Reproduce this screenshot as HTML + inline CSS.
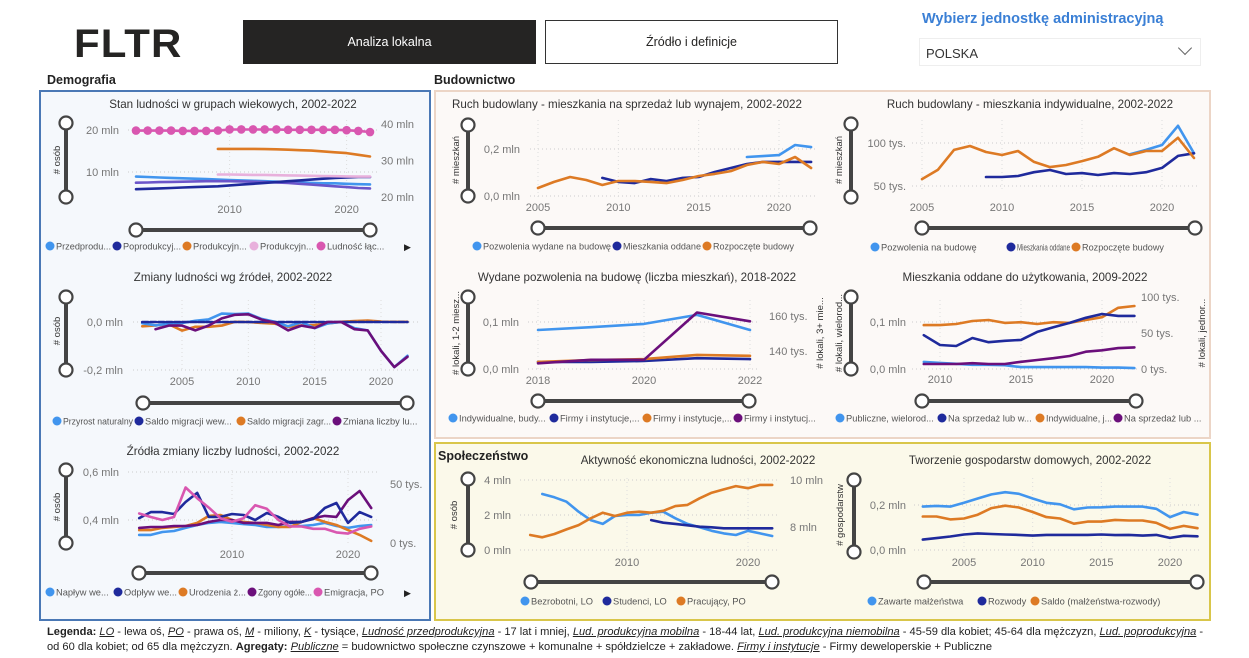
<!DOCTYPE html>
<html><head><meta charset="utf-8">
<style>
*{margin:0;padding:0;box-sizing:border-box}
body{width:1249px;height:658px;background:#fff;font-family:"Liberation Sans",sans-serif;position:relative;overflow:hidden;color:#252423}
.abs{position:absolute}
.logo{left:74px;top:22px;font-size:40px;font-weight:900;letter-spacing:1px;transform:scaleX(1.05);transform-origin:left}
.btn{top:20px;height:44px;width:293px;display:flex;align-items:center;justify-content:center;font-size:12.5px}
.sec{font-size:12.5px;font-weight:bold;color:#222}
.panel{position:absolute}
.foot{left:47px;font-size:11.1px;white-space:nowrap;color:#222}
.foot i{text-decoration:underline}
svg text{font-family:"Liberation Sans",sans-serif}
</style></head><body>
<div class="abs logo">FLTR</div>
<div class="abs btn" style="left:243px;background:#252423;color:#fff">Analiza lokalna</div>
<div class="abs btn" style="left:545px;background:#fff;border:1.5px solid #333">Źródło i definicje</div>
<div class="abs" style="left:922px;top:11px;font-size:14.5px;font-weight:bold;color:#3a7fd5">Wybierz jednostkę administracyjną</div>
<div class="abs" style="left:919px;top:38px;width:282px;height:28px;border:1px solid #eee;font-size:13px;padding:7px 0 0 6px;color:#333">POLSKA<span class="abs" style="right:10px;top:4px;width:10px;height:10px;border-right:1.3px solid #666;border-bottom:1.3px solid #666;transform:rotate(45deg)"></span></div>
<div class="abs sec" style="left:47px;top:73px">Demografia</div>
<div class="abs sec" style="left:434px;top:73px">Budownictwo</div>
<div class="panel" style="left:39px;top:90px;width:392px;height:531px;border:2px solid #4a78b5;background:#f5f8fc"></div>
<div class="panel" style="left:434px;top:90px;width:777px;height:349px;border:2px solid #ecd5c6;background:#fcf9f7"></div>
<div class="panel" style="left:434px;top:442px;width:777px;height:179px;border:2px solid #d9c64a;background:#fbf9ea"></div>
<div class="abs sec" style="left:438px;top:449px">Społeczeństwo</div>
<div class="abs foot" style="top:626px"><b>Legenda:</b> <i>LO</i> - lewa oś, <i>PO</i> - prawa oś, <i>M</i> - miliony, <i>K</i> - tysiące, <i>Ludność przedprodukcyjna</i> - 17 lat i mniej, <i>Lud. produkcyjna mobilna</i> - 18-44 lat, <i>Lud. produkcyjna niemobilna</i> - 45-59 dla kobiet; 45-64 dla mężczyzn, <i>Lud. poprodukcyjna</i> -</div>
<div class="abs foot" style="top:641px">od 60 dla kobiet; od 65 dla mężczyzn. <b>Agregaty:</b> <i>Publiczne</i> = budownictwo społeczne czynszowe + komunalne + spółdzielcze + zakładowe. <i>Firmy i instytucje</i> - Firmy deweloperskie + Publiczne</div>
<svg id="charts" class="abs" style="left:0;top:0" width="1249" height="658"></svg>
<script>
const YRS = [2002,2003,2004,2005,2006,2007,2008,2009,2010,2011,2012,2013,2014,2015,2016,2017,2018,2019,2020,2021,2022];
const YRS18 = [2018,2019,2020,2021,2022];
const YRS09 = [2009,2010,2011,2012,2013,2014,2015,2016,2017,2018,2019,2020,2021,2022];
// Chart 1
const c1Przed = [8.9,8.8,8.7,8.6,8.5,8.4,8.3,8.2,8.1,8.0,7.9,7.8,7.7,7.6,7.5,7.4,7.3,7.3,7.2,7.1,7.05];
const c1Popro = [5.9,6.0,6.1,6.2,6.3,6.4,6.5,6.6,6.8,7.0,7.2,7.4,7.6,7.8,8.0,8.2,8.4,8.6,8.7,8.8,8.8];
const c1Prod = [7.45,7.5,7.6,7.65,7.7,7.75,7.8,7.8,7.8,7.75,7.7,7.6,7.5,7.4,7.2,7.0,6.8,6.6,6.4,6.2,6.1];
const c1ProdM = [null,null,null,null,null,null,null,15.5,15.5,15.5,15.5,15.45,15.4,15.3,15.2,15.1,14.9,14.7,14.5,14.1,13.7];
const c1ProdN = [null,null,null,null,null,null,null,9.4,9.4,9.35,9.3,9.3,9.25,9.2,9.15,9.1,9.05,9.0,8.95,8.9,8.9];
const c1Ludnosc = [38.2,38.2,38.2,38.2,38.1,38.1,38.1,38.2,38.5,38.5,38.5,38.5,38.5,38.4,38.4,38.4,38.4,38.4,38.3,38.1,37.8];
const c1LeftTicks = [10,20]; const c1LeftLabels = ['10 mln','20 mln'];
const c1RightTicks = [20,30,40]; const c1RightLabels = ['20 mln','30 mln','40 mln'];
const c1XTicks = [2010,2020];
// Chart 2
const c2Przyrost = [-0.005,-0.014,-0.007,-0.004,0.005,0.011,0.035,0.033,0.035,0.013,0.001,-0.018,-0.001,-0.026,-0.006,0.0,-0.026,-0.035,-0.12,-0.188,-0.141];
const c2Wew = [0,0,0,0,0,0,0,0,0,0,0,0,0,0,0,0,0,0,0,0,0];
const c2Zagr = [-0.018,-0.014,-0.009,-0.036,-0.02,-0.02,-0.015,0.001,0.0,-0.004,-0.007,-0.02,-0.015,-0.013,-0.006,0.001,0.004,0.006,0.002,0.001,0.001];
const c2Zmiana = [null,-0.03,-0.015,-0.015,-0.035,-0.015,0.015,0.03,0.032,0.01,-0.003,-0.035,-0.015,-0.025,0.0,0.0,-0.03,-0.035,-0.12,-0.188,-0.145];
const c2LeftTicks = [-0.2,0]; const c2LeftLabels = ['-0,2 mln','0,0 mln'];
const c2XTicks = [2005,2010,2015,2020];
// Chart 3
const c3Naplyw = [0.338,0.338,0.35,0.354,0.367,0.379,0.388,0.392,0.388,0.383,0.379,0.371,0.371,0.375,0.375,0.379,0.388,0.375,0.367,0.375,0.379];
const c3Odplyw = [0.408,0.433,0.433,0.425,0.475,0.513,0.413,0.413,0.425,0.421,0.4,0.429,0.413,0.388,0.392,0.404,0.45,0.471,0.388,0.433,0.413];
const c3Urodzenia = [0.358,0.358,0.367,0.371,0.375,0.388,0.417,0.421,0.4,0.392,0.388,0.379,0.371,0.371,0.392,0.408,0.392,0.379,0.358,0.338,0.313];
const c3Zgony = [0.367,0.371,0.371,0.375,0.375,0.379,0.392,0.4,0.4,0.388,0.388,0.388,0.379,0.392,0.392,0.408,0.417,0.413,0.483,0.521,0.45];
const c3Emigracja = [25,22,19.5,22,47,38,30,21,18,21,32,29,19.5,14,14,12,12,9,8,12,14];
const c3LeftTicks = [0.4,0.6]; const c3LeftLabels = ['0,4 mln','0,6 mln'];
const c3RightTicks = [0,50]; const c3RightLabels = ['0 tys.','50 tys.'];
const c3XTicks = [2010,2020];
// Chart 4
const c4Pozw = [null,null,null,null,null,null,null,null,null,null,null,null,null,null,null,null,0.166,0.17,0.174,0.217,0.208];
const c4Oddane = [null,null,null,null,null,null,null,0.077,0.06,0.055,0.072,0.064,0.077,0.081,0.102,0.119,0.136,0.145,0.145,0.145,0.145];
const c4Rozp = [null,null,null,0.034,0.06,0.081,0.068,0.047,0.064,0.064,0.06,0.055,0.068,0.085,0.094,0.106,0.132,0.145,0.136,0.166,0.119];
const c4LeftTicks = [0,0.2]; const c4LeftLabels = ['0,0 mln','0,2 mln'];
const c4XTicks = [2005,2010,2015,2020];
// Chart 5
const c5Pozw = [null,null,null,null,null,null,null,null,null,null,null,null,null,null,null,null,87,92,97.7,120,88];
const c5Oddane = [null,null,null,null,null,null,null,60.5,60.5,61.6,66,68.6,64,65,62.8,65,64,66,71,85,88];
const c5Rozp = [null,null,null,58,69,92,96.5,89.5,86,90.7,78,72,74.4,79,84,94,86,90.7,90.7,106,82.6];
const c5LeftTicks = [50,100]; const c5LeftLabels = ['50 tys.','100 tys.'];
const c5XTicks = [2005,2010,2015,2020];
// Chart 6
const c6Indyw = [0.083,0.089,0.096,0.115,0.083];
const c6Firmy12 = [0.015,0.015,0.017,0.023,0.021];
const c6FirmyB = [0.015,0.019,0.021,0.03,0.028];
const c6Firmy3 = [133,135,135,162,157];
const c6LeftTicks = [0,0.1]; const c6LeftLabels = ['0,0 mln','0,1 mln'];
const c6RightTicks = [140,160]; const c6RightLabels = ['140 tys.','160 tys.'];
const c6XTicks = [2018,2020,2022];
// Chart 7
const c7Publ = [0.015,0.013,0.011,0.009,0.009,0.008,0.004,0.004,0.004,0.004,0.004,0.003,0.003,0.002];
const c7SprzW = [0.072,0.051,0.049,0.066,0.057,0.06,0.062,0.079,0.089,0.098,0.109,0.117,0.113,0.113];
const c7Indyw = [61,61,62.5,66.7,68,64,65,62.5,65,64,68,72,85,87.5];
const c7SprzJ = [7,7,7,8,7,7,10,12.5,15,18,24,26,29,30];
const c7LeftTicks = [0,0.1]; const c7LeftLabels = ['0,0 mln','0,1 mln'];
const c7RightTicks = [0,50,100]; const c7RightLabels = ['0 tys.','50 tys.','100 tys.'];
const c7XTicks = [2010,2015,2020];
// Chart 8
const c8Bezrob = [null,3.2,3.01,2.76,2.19,1.71,1.49,1.94,2.0,2.0,2.13,2.19,1.81,1.49,1.3,1.1,0.95,0.86,1.1,0.95,0.8];
const c8Stud = [null,null,null,null,null,null,null,null,null,null,1.71,1.56,1.49,1.41,1.33,1.3,1.24,1.24,1.24,1.24,1.24];
const c8Prac = [7.66,7.56,7.7,7.9,8.08,8.37,8.61,8.47,8.61,8.65,8.61,8.69,8.89,8.94,9.22,9.46,9.6,9.74,9.65,9.79,9.79];
const c8LeftTicks = [0,2,4]; const c8LeftLabels = ['0 mln','2 mln','4 mln'];
const c8RightTicks = [8,10]; const c8RightLabels = ['8 mln','10 mln'];
const c8XTicks = [2010,2020];
// Chart 9
const c9Zawarte = [0.193,0.196,0.193,0.21,0.229,0.247,0.257,0.25,0.229,0.21,0.203,0.181,0.189,0.19,0.193,0.193,0.193,0.183,0.146,0.169,0.157];
const c9Rozwody = [0.046,0.053,0.06,0.069,0.074,0.071,0.069,0.067,0.064,0.067,0.067,0.067,0.067,0.069,0.066,0.067,0.064,0.067,0.054,0.063,0.061];
const c9Saldo = [0.149,0.149,0.136,0.14,0.157,0.186,0.197,0.189,0.169,0.146,0.14,0.117,0.126,0.126,0.134,0.131,0.131,0.121,0.094,0.107,0.097];
const c9LeftTicks = [0,0.2]; const c9LeftLabels = ['0,0 mln','0,2 mln'];
const c9XTicks = [2005,2010,2015,2020];

const LB='#4195ee', NV='#1f2a9c', OR='#dd7a24', PU='#6b0f7b', PK='#d957b0', LP='#e8b0dc', VI='#6b55c9';
const NS='http://www.w3.org/2000/svg';
const root=document.getElementById('charts');
function mk(tag,parent,o){const e=document.createElementNS(NS,tag);for(const k in o)e.setAttribute(k,o[k]);parent.appendChild(e);return e;}
function lin(d0,d1,r0,r1){return v=>r0+(v-d0)*(r1-r0)/(d1-d0);}
function txt(parent,x,y,s,o){const t=mk('text',parent,Object.assign({x:x,y:y,'font-size':11,fill:'#777'},o||{}));t.textContent=s;return t;}
function line(g,years,vals,sx,sy,color,name,w){
  let d='',pen=false;
  years.forEach((yr,i)=>{const v=vals[i];if(v==null){pen=false;return;}d+=(pen?'L':'M')+sx(yr).toFixed(1)+' '+sy(v).toFixed(1);pen=true;});
  const p=mk('path',g,{d:d,fill:'none',stroke:color,'stroke-width':w||2.6,'stroke-linejoin':'round','stroke-linecap':'round'});
  
  
  return p;
}
function yTicks(g,ticks,labels,sy,xText,anchor,gx0,gx1,name){
  ticks.forEach((v,i)=>{
    if(gx1) mk('line',g,{x1:gx0,x2:gx1,y1:sy(v),y2:sy(v),stroke:'#ccc','stroke-dasharray':'1 3'});
    const t=txt(g,xText,sy(v)+4,labels[i],{'text-anchor':anchor});
    
    
  });
}
function xTicks(g,ticks,sx,y,gy0,gy1,name){
  ticks.forEach(v=>{
    mk('line',g,{x1:sx(v),x2:sx(v),y1:gy0,y2:gy1,stroke:'#ddd','stroke-dasharray':'1 3'});
    const t=txt(g,sx(v),y,String(v),{'text-anchor':'middle'});
    
    
  });
}
function vslider(g,x,y0,y1,name){
  const s=mk('g',g,{});
  
  
  mk('line',s,{x1:x,x2:x,y1:y0,y2:y1,stroke:'#444','stroke-width':4});
  mk('circle',s,{cx:x,cy:y0,r:6.5,fill:'#fff',stroke:'#444','stroke-width':2.2});
  mk('circle',s,{cx:x,cy:y1,r:6.5,fill:'#fff',stroke:'#444','stroke-width':2.2});
}
function hslider(g,x0,x1,y,name){
  const s=mk('g',g,{});
  
  
  mk('line',s,{x1:x0,x2:x1,y1:y,y2:y,stroke:'#444','stroke-width':4});
  mk('circle',s,{cx:x0,cy:y,r:6.5,fill:'#fff',stroke:'#444','stroke-width':2.2});
  mk('circle',s,{cx:x1,cy:y,r:6.5,fill:'#fff',stroke:'#444','stroke-width':2.2});
}
function legend(g,y,xs,colors,labels,name,endX){
  xs.forEach((x,i)=>{
    const e=mk('g',g,{});
    
    
    mk('circle',e,{cx:x,cy:y,r:4.5,fill:colors[i]});
    const t=txt(e,x+6,y+3.5,labels[i],{'font-size':9.3,fill:'#555'});
    const lim=(i<xs.length-1?xs[i+1]:endX)-x-12;
    if(lim>0 && t.getComputedTextLength()>lim){t.setAttribute('textLength',lim);t.setAttribute('lengthAdjust','spacingAndGlyphs');}
  });
}
function title(g,x,y,s,name){const t=txt(g,x,y,s,{'text-anchor':'middle','font-size':11.6,fill:'#333'});}
function axTitle(g,x,y,s,name){const t=txt(g,0,0,s,{'text-anchor':'middle','font-size':9.5,fill:'#333',transform:'translate('+x+','+y+') rotate(-90)'});}
function chartGroup(name){const g=mk('g',root,{});return g;}

// ---- Chart 1
(function(){
  const g=chartGroup('stan-ludnosci-chart');
  const sx=lin(2002,2022,136,370), yL=lin(10,20,172,130), yR=lin(20,40,197,124);
  title(g,233,108,'Stan ludności w grupach wiekowych, 2002-2022','c1');
  axTitle(g,60,160,'# osób','c1');
  yTicks(g,c1LeftTicks,c1LeftLabels,yL,119,'end',128,378,'c1-left');
  yTicks(g,c1RightTicks,c1RightLabels,yR,381,'start',0,0,'c1-right');
  xTicks(g,c1XTicks,sx,213,120,200,'c1');
  line(g,YRS,c1Przed,sx,yL,LB,'przedprodukcyjny-line');
  line(g,YRS,c1Prod,sx,yL,VI,'produkcyjny-line');
  line(g,YRS,c1Popro,sx,yL,NV,'poprodukcyjny-line');
  line(g,YRS,c1ProdN,sx,yL,LP,'produkcyjny-niemobilny-line');
  line(g,YRS,c1ProdM,sx,yL,OR,'produkcyjny-mobilny-line');
  line(g,YRS,c1Ludnosc,sx,yR,PK,'ludnosc-laczna-line');
  YRS.forEach((yr,i)=>{const c=mk('circle',g,{cx:sx(yr),cy:yR(c1Ludnosc[i]),r:4.3,fill:PK});
    
    });
  vslider(g,66,123,197,'c1'); hslider(g,136,370,230,'c1');
  legend(g,246,[50,117,187,254,321],[LB,NV,OR,LP,PK],['Przedprodu...','Poprodukcyj...','Produkcyjn...','Produkcyjn...','Ludność łąc...'],'c1',392);
  const a=txt(g,404,250,'▶',{'font-size':9,fill:'#222'});
})();
// ---- Chart 2
(function(){
  const g=chartGroup('zmiany-ludnosci-chart');
  const sx=lin(2005,2020,182,381), yL=lin(-0.2,0,370,322);
  title(g,233,281,'Zmiany ludności wg źródeł, 2002-2022','c2');
  axTitle(g,60,331,'# osób','c2');
  yTicks(g,c2LeftTicks,c2LeftLabels,yL,123,'end',133,418,'c2');
  xTicks(g,c2XTicks,sx,385,300,372,'c2');
  line(g,YRS,c2Zagr,sx,yL,OR,'saldo-migracji-zagr-line');
  line(g,YRS,c2Przyrost,sx,yL,LB,'przyrost-naturalny-line');
  line(g,YRS,c2Wew,sx,yL,NV,'saldo-migracji-wew-line').setAttribute('stroke-dasharray','6 2');
  line(g,YRS,c2Zmiana,sx,yL,PU,'zmiana-liczby-ludnosci-line');
  vslider(g,66,297,370,'c2'); hslider(g,143,407,403,'c2');
  legend(g,421,[57,139,241,337],[LB,NV,OR,PU],['Przyrost naturalny','Saldo migracji wew...','Saldo migracji zagr...','Zmiana liczby lu...'],'c2',426);
})();
// ---- Chart 3
(function(){
  const g=chartGroup('zrodla-zmiany-chart');
  const sx=lin(2010,2020,232,348), yL=lin(0.4,0.6,520,472), yR=lin(0,50,543,484);
  title(g,233,455,'Źródła zmiany liczby ludności, 2002-2022','c3');
  axTitle(g,60,507,'# osób','c3');
  yTicks(g,c3LeftTicks,c3LeftLabels,yL,119,'end',128,378,'c3-left');
  yTicks(g,c3RightTicks,c3RightLabels,yR,390,'start',0,0,'c3-right');
  xTicks(g,c3XTicks,sx,558,470,545,'c3');
  line(g,YRS,c3Naplyw,sx,yL,LB,'naplyw-line');
  line(g,YRS,c3Urodzenia,sx,yL,OR,'urodzenia-line');
  line(g,YRS,c3Zgony,sx,yL,PU,'zgony-line');
  line(g,YRS,c3Odplyw,sx,yL,NV,'odplyw-line');
  line(g,YRS,c3Emigracja,sx,yR,PK,'emigracja-line');
  vslider(g,66,470,543,'c3'); hslider(g,139,371,573,'c3');
  legend(g,592,[50,118,183,252,318],[LB,NV,OR,PU,PK],['Napływ we...','Odpływ we...','Urodzenia ż...','Zgony ogółe...','Emigracja, PO'],'c3',392);
  const a=txt(g,404,596,'▶',{'font-size':9,fill:'#222'});
})();
// ---- Chart 4
(function(){
  const g=chartGroup('ruch-budowlany-sprzedaz-chart');
  const sx=lin(2005,2020,538,779), yL=lin(0,0.2,196,149);
  title(g,627,108,'Ruch budowlany - mieszkania na sprzedaż lub wynajem, 2002-2022','c4');
  axTitle(g,459,160,'# mieszkań','c4');
  yTicks(g,c4LeftTicks,c4LeftLabels,yL,520,'end',530,817,'c4');
  xTicks(g,c4XTicks,sx,211,120,198,'c4');
  line(g,YRS,c4Pozw,sx,yL,LB,'pozwolenia-line');
  line(g,YRS,c4Oddane,sx,yL,NV,'mieszkania-oddane-line');
  line(g,YRS,c4Rozp,sx,yL,OR,'rozpoczete-budowy-line');
  vslider(g,468,125,196,'c4'); hslider(g,538,810,228,'c4');
  legend(g,246,[477,617,707],[LB,NV,OR],['Pozwolenia wydane na budowę','Mieszkania oddane','Rozpoczęte budowy'],'c4',800);
})();
// ---- Chart 5
(function(){
  const g=chartGroup('ruch-budowlany-indywidualne-chart');
  const sx=lin(2005,2020,922,1162), yL=lin(50,100,186,143);
  title(g,1030,108,'Ruch budowlany - mieszkania indywidualne, 2002-2022','c5');
  axTitle(g,842,160,'# mieszkań','c5');
  yTicks(g,c5LeftTicks,c5LeftLabels,yL,906,'end',912,1200,'c5');
  xTicks(g,c5XTicks,sx,211,120,190,'c5');
  line(g,YRS,c5Pozw,sx,yL,LB,'pozwolenia-line');
  line(g,YRS,c5Oddane,sx,yL,NV,'mieszkania-oddane-line');
  line(g,YRS,c5Rozp,sx,yL,OR,'rozpoczete-budowy-line');
  vslider(g,851,124,197,'c5'); hslider(g,922,1195,228,'c5');
  legend(g,247,[875,1011,1076],[LB,NV,OR],['Pozwolenia na budowę','Mieszkania oddane','Rozpoczęte budowy'],'c5',1170);
})();
// ---- Chart 6
(function(){
  const g=chartGroup('wydane-pozwolenia-chart');
  const sx=lin(2018,2022,538,750), yL=lin(0,0.1,369,322), yR=lin(140,160,351,316);
  title(g,637,281,'Wydane pozwolenia na budowę (liczba mieszkań), 2018-2022','c6');
  axTitle(g,459,333,'# lokali, 1-2 miesz...','c6');
  axTitle(g,823,333,'# lokali, 3+ mie...','c6-right');
  yTicks(g,c6LeftTicks,c6LeftLabels,yL,519,'end',528,758,'c6-left');
  yTicks(g,c6RightTicks,c6RightLabels,yR,769,'start',0,0,'c6-right');
  xTicks(g,c6XTicks,sx,384,300,372,'c6');
  line(g,YRS18,c6Indyw,sx,yL,LB,'indywidualne-line');
  line(g,YRS18,c6Firmy12,sx,yL,NV,'firmy-1-2-line');
  line(g,YRS18,c6FirmyB,sx,yL,OR,'firmy-b-line');
  line(g,YRS18,c6Firmy3,sx,yR,PU,'firmy-3plus-line');
  vslider(g,468,297,369,'c6'); hslider(g,538,749,401,'c6');
  legend(g,418,[453,554,647,738],[LB,NV,OR,PU],['Indywidualne, budy...','Firmy i instytucje,...','Firmy i instytucje,...','Firmy i instytucj...'],'c6',828);
})();
// ---- Chart 7
(function(){
  const g=chartGroup('mieszkania-oddane-chart');
  const sx=lin(2010,2020,940,1102), yL=lin(0,0.1,369,322), yR=lin(0,100,369,297);
  title(g,1025,281,'Mieszkania oddane do użytkowania, 2009-2022','c7');
  axTitle(g,842,333,'# lokali, wielorod...','c7');
  axTitle(g,1205,333,'# lokali, jednor...','c7-right');
  yTicks(g,c7LeftTicks,c7LeftLabels,yL,906,'end',912,1140,'c7-left');
  yTicks(g,c7RightTicks,c7RightLabels,yR,1141,'start',0,0,'c7-right');
  xTicks(g,c7XTicks,sx,383,300,372,'c7');
  line(g,YRS09,c7Publ,sx,yL,LB,'publiczne-line');
  line(g,YRS09,c7SprzJ,sx,yR,PU,'sprzedaz-jednor-line');
  line(g,YRS09,c7Indyw,sx,yR,OR,'indywidualne-line');
  line(g,YRS09,c7SprzW,sx,yL,NV,'sprzedaz-wielorod-line');
  vslider(g,851,297,369,'c7'); hslider(g,922,1136,401,'c7');
  legend(g,418,[840,942,1040,1118],[LB,NV,OR,PU],['Publiczne, wielorod...','Na sprzedaż lub w...','Indywidualne, j...','Na sprzedaż lub ...'],'c7',1208);
})();
// ---- Chart 8
(function(){
  const g=chartGroup('aktywnosc-ekonomiczna-chart');
  const sx=lin(2010,2020,627,748), yL=lin(0,4,550,480), yR=lin(8,10,527,480);
  title(g,698,464,'Aktywność ekonomiczna ludności, 2002-2022','c8');
  axTitle(g,457,515,'# osób','c8');
  yTicks(g,c8LeftTicks,c8LeftLabels,yL,511,'end',520,780,'c8-left');
  yTicks(g,c8RightTicks,c8RightLabels,yR,790,'start',0,0,'c8-right');
  xTicks(g,c8XTicks,sx,566,478,552,'c8');
  line(g,YRS,c8Bezrob,sx,yL,LB,'bezrobotni-line');
  line(g,YRS,c8Stud,sx,yL,NV,'studenci-line');
  line(g,YRS,c8Prac,sx,yR,OR,'pracujacy-line');
  vslider(g,468,479,550,'c8'); hslider(g,531,772,582,'c8');
  legend(g,601,[525,607,681],[LB,NV,OR],['Bezrobotni, LO','Studenci, LO','Pracujący, PO'],'c8',780);
})();
// ---- Chart 9
(function(){
  const g=chartGroup('tworzenie-gospodarstw-chart');
  const sx=lin(2005,2020,964,1170), yL=lin(0,0.2,550,505);
  title(g,1030,464,'Tworzenie gospodarstw domowych, 2002-2022','c9');
  axTitle(g,843,515,'# gospodarstw','c9');
  yTicks(g,c9LeftTicks,c9LeftLabels,yL,906,'end',914,1200,'c9');
  xTicks(g,c9XTicks,sx,566,478,552,'c9');
  line(g,YRS,c9Zawarte,sx,yL,LB,'zawarte-malzenstwa-line');
  line(g,YRS,c9Rozwody,sx,yL,NV,'rozwody-line');
  line(g,YRS,c9Saldo,sx,yL,OR,'saldo-line');
  vslider(g,854,480,552,'c9'); hslider(g,924,1197,582,'c9');
  legend(g,601,[872,982,1035],[LB,NV,OR],['Zawarte małżeństwa','Rozwody','Saldo (małżeństwa-rozwody)'],'c9',1210);
})();
</script>
</body></html>
